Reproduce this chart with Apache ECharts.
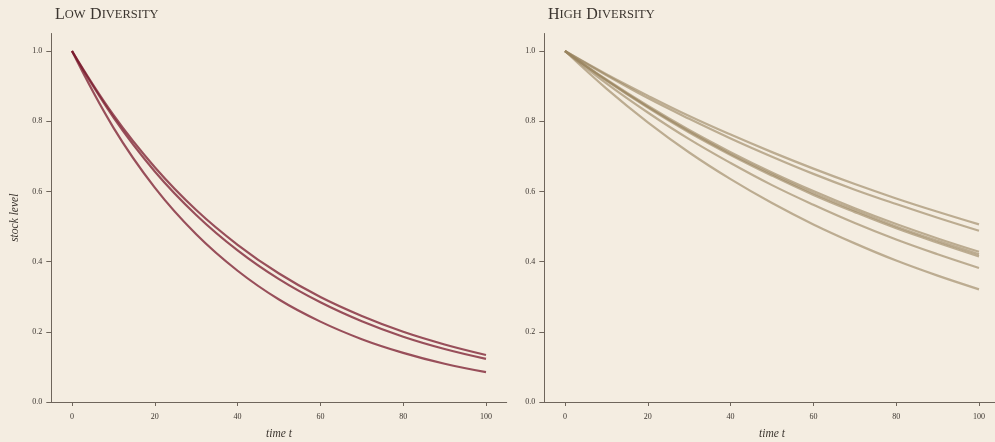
<!DOCTYPE html>
<html>
<head>
<meta charset="utf-8">
<script src="https://cdn.jsdelivr.net/npm/echarts@6/dist/echarts.min.js"></script>
<style>
  html, body { margin: 0; padding: 0; background: #f4ede1; }
  #chart { width: 995px; height: 442px; }
</style>
</head>
<body>
<div id="chart"></div>
<script>
// Time points shared by every run
const timeSteps = [0, 10, 20, 30, 40, 50, 60, 70, 80, 90, 100];

// Stock level over time, low diversity portfolio (3 runs)
const lowDiversityA = [1.000, 0.818, 0.669, 0.547, 0.448, 0.366, 0.299, 0.245, 0.200, 0.164, 0.134];
const lowDiversityB = [1.000, 0.811, 0.657, 0.533, 0.432, 0.350, 0.284, 0.230, 0.186, 0.151, 0.123];
const lowDiversityC = [1.000, 0.782, 0.611, 0.478, 0.374, 0.292, 0.229, 0.179, 0.140, 0.109, 0.085];

// Stock level over time, high diversity portfolio (7 runs)
const highDiversity1 = [1.000, 0.934, 0.873, 0.815, 0.762, 0.712, 0.665, 0.621, 0.580, 0.542, 0.506];
const highDiversity2 = [1.000, 0.931, 0.866, 0.807, 0.751, 0.699, 0.650, 0.605, 0.564, 0.525, 0.488];
const highDiversity3 = [1.000, 0.919, 0.844, 0.775, 0.712, 0.654, 0.601, 0.552, 0.507, 0.466, 0.428];
const highDiversity4 = [1.000, 0.917, 0.841, 0.771, 0.707, 0.649, 0.595, 0.546, 0.500, 0.459, 0.421];
const highDiversity5 = [1.000, 0.916, 0.839, 0.768, 0.704, 0.645, 0.590, 0.541, 0.495, 0.454, 0.415];
const highDiversity6 = [1.000, 0.908, 0.825, 0.749, 0.681, 0.618, 0.562, 0.510, 0.463, 0.421, 0.382];
const highDiversity7 = [1.000, 0.893, 0.797, 0.711, 0.635, 0.567, 0.506, 0.452, 0.403, 0.360, 0.321];

const xTicks = [0, 20, 40, 60, 80, 100];
const yTicks = [0, 0.2, 0.4, 0.6, 0.8, 1.0];

const lowRuns = [lowDiversityA, lowDiversityB, lowDiversityC];
const highRuns = [highDiversity1, highDiversity2, highDiversity3, highDiversity4,
                  highDiversity5, highDiversity6, highDiversity7];

const serif = '"Liberation Serif", "DejaVu Serif", serif';
const inkColor = '#3b352f';
const axisColor = '#6e655b';

function pairs(values) {
  return timeSteps.map((t, i) => [t, values[i]]);
}

function makeXAxis(gridIndex) {
  return {
    type: 'value', gridIndex, min: -5, max: 105, position: 'bottom',
    name: 'time t', nameLocation: 'middle', nameGap: 26,
    nameTextStyle: { fontFamily: serif, fontStyle: 'italic', fontSize: 11.5, color: inkColor },
    axisLine: { show: true, onZero: false, lineStyle: { color: axisColor, width: 1 } },
    axisTick: { show: true, length: 4, customValues: xTicks, lineStyle: { color: axisColor } },
    axisLabel: { customValues: xTicks, fontFamily: serif, fontSize: 8, color: inkColor, margin: 11 },
    splitLine: { show: false }
  };
}

function makeYAxis(gridIndex, withName) {
  return {
    type: 'value', gridIndex, min: 0, max: 1.05, position: 'left',
    name: withName ? 'stock level' : '', nameLocation: 'middle', nameGap: 30,
    nameTextStyle: { fontFamily: serif, fontStyle: 'italic', fontSize: 11.5, color: inkColor },
    axisLine: { show: true, onZero: false, lineStyle: { color: axisColor, width: 1 } },
    axisTick: { show: true, length: 5, customValues: yTicks, lineStyle: { color: axisColor } },
    axisLabel: {
      customValues: yTicks, fontFamily: serif, fontSize: 8, color: inkColor, margin: 9,
      formatter: v => v.toFixed(1)
    },
    splitLine: { show: false }
  };
}

function makeSeries(runs, axisIndex, color, opacity) {
  return runs.map(values => ({
    type: 'line', xAxisIndex: axisIndex, yAxisIndex: axisIndex,
    data: pairs(values), smooth: 0.4, symbol: 'none',
    lineStyle: { color, width: 2.2, opacity },
    emphasis: { disabled: true }, animation: false
  }));
}

function smallCapsTitle(parts, left) {
  return {
    text: parts, left, top: 1,
    textStyle: {
      fontFamily: serif, color: inkColor, fontWeight: 'normal',
      rich: {
        big: { fontSize: 16, fontFamily: serif, color: inkColor, fontWeight: 'normal' },
        sm: { fontSize: 12.5, fontFamily: serif, color: inkColor, fontWeight: 'normal' }
      }
    }
  };
}

const chart = echarts.init(document.getElementById('chart'), null, { renderer: 'canvas' });
chart.setOption({
  backgroundColor: '#f4ede1',
  animation: false,
  title: [
    smallCapsTitle('{big|L}{sm|OW} {big|D}{sm|IVERSITY}', 50),
    smallCapsTitle('{big|H}{sm|IGH} {big|D}{sm|IVERSITY}', 543)
  ],
  grid: [
    { left: 51.3, top: 33.5, width: 455.4, height: 368.5, outerBoundsMode: 'none', containLabel: false },
    { left: 544.3, top: 33.5, width: 455.4, height: 368.5, outerBoundsMode: 'none', containLabel: false }
  ],
  xAxis: [makeXAxis(0), makeXAxis(1)],
  yAxis: [makeYAxis(0, true), makeYAxis(1, false)],
  series: [
    ...makeSeries(lowRuns, 0, '#7a1a2c', 0.75),
    ...makeSeries(highRuns, 1, '#9a845f', 0.62)
  ]
});
</script>
</body>
</html>
